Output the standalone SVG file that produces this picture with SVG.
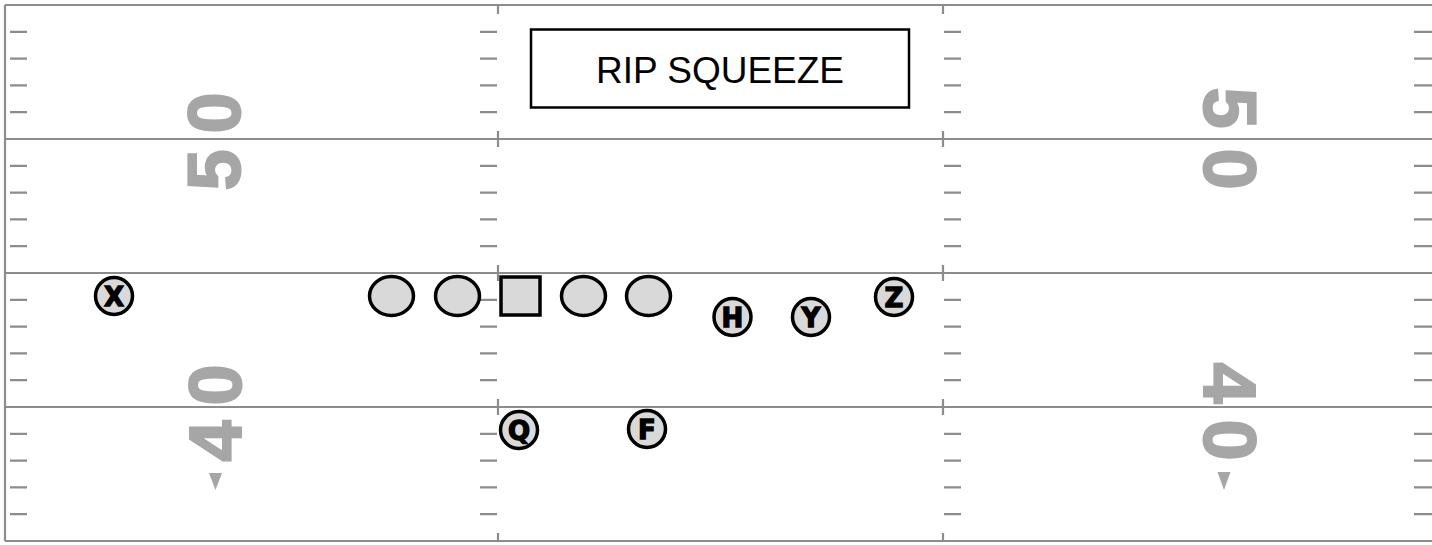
<svg xmlns="http://www.w3.org/2000/svg" width="1432" height="545" viewBox="0 0 1432 545">
<style>
.yard{stroke:#8c8c8c;stroke-width:2.2;fill:none}
.hash{stroke:#8c8c8c;stroke-width:2.2;fill:none}
.num{font-family:"Liberation Sans",Arial,sans-serif;font-weight:bold;font-size:74px;fill:#a6a6a6;stroke:#a6a6a6;stroke-width:2;text-anchor:middle}
.tri{fill:#a6a6a6}
.lineman{fill:#d9d9d9;stroke:#000;stroke-width:3.5}
.skill{fill:#d9d9d9;stroke:#000;stroke-width:3.5}
.lbl{font-family:"DejaVu Sans",Verdana,sans-serif;font-weight:bold;font-size:26px;fill:#000;stroke:#000;stroke-width:1.3;text-anchor:middle}
.title{font-family:"Liberation Sans",Arial,sans-serif;font-size:37px;fill:#000;text-anchor:middle}
</style>
<rect width="1432" height="545" fill="#ffffff"/>
<g id="field">
  <path class="yard" d="M5 5V541M5 5H1432M5 139H1432M5 273H1432M5 407H1432M5 541H1432"/>
  <path class="hash" d="M498 5v9M498 131v16M498 265v16M498 399v16M498 533v8M943 5v9M943 131v16M943 265v16M943 399v16M943 533v8"/>
  <path class="hash" d="M10 31.8h17M10 58.6h17M10 85.4h17M10 112.2h17M10 165.8h17M10 192.6h17M10 219.4h17M10 246.2h17M10 299.8h17M10 326.6h17M10 353.4h17M10 380.2h17M10 433.8h17M10 460.6h17M10 487.4h17M10 514.2h17"/>
  <path class="hash" d="M480 31.8h17M480 58.6h17M480 85.4h17M480 112.2h17M480 165.8h17M480 192.6h17M480 219.4h17M480 246.2h17M480 299.8h17M480 326.6h17M480 353.4h17M480 380.2h17M480 433.8h17M480 460.6h17M480 487.4h17M480 514.2h17"/>
  <path class="hash" d="M944 31.8h17M944 58.6h17M944 85.4h17M944 112.2h17M944 165.8h17M944 192.6h17M944 219.4h17M944 246.2h17M944 299.8h17M944 326.6h17M944 353.4h17M944 380.2h17M944 433.8h17M944 460.6h17M944 487.4h17M944 514.2h17"/>
  <path class="hash" d="M1414 31.8h18M1414 58.6h18M1414 85.4h18M1414 112.2h18M1414 165.8h18M1414 192.6h18M1414 219.4h18M1414 246.2h18M1414 299.8h18M1414 326.6h18M1414 353.4h18M1414 380.2h18M1414 433.8h18M1414 460.6h18M1414 487.4h18M1414 514.2h18"/>
</g>
<g id="numbers">
  <text class="num" transform="translate(213,113) rotate(-90)" x="0" y="26.5">0</text>
  <text class="num" transform="translate(213,170) rotate(-90)" x="0" y="26.5">5</text>
  <text class="num" transform="translate(214,385) rotate(-90)" x="0" y="26.5">0</text>
  <text class="num" transform="translate(214,441) rotate(-90)" x="0" y="26.5">4</text>
  <polygon class="tri" points="209,473 222,473 215.5,490"/>
  <text class="num" transform="translate(1230,108) rotate(90)" x="0" y="26.5">5</text>
  <text class="num" transform="translate(1230,169) rotate(90)" x="0" y="26.5">0</text>
  <text class="num" transform="translate(1230,383) rotate(90)" x="0" y="26.5">4</text>
  <text class="num" transform="translate(1230,440) rotate(90)" x="0" y="26.5">0</text>
  <polygon class="tri" points="1217.5,472 1230.5,472 1224,490"/>
</g>
<g id="title">
  <rect x="531" y="29.5" width="378" height="78" fill="#ffffff" stroke="#000" stroke-width="2.5"/>
  <text class="title" x="720" y="83">RIP SQUEEZE</text>
</g>
<g id="LT"><ellipse class="lineman" cx="391.5" cy="296" rx="22" ry="19.5"/></g>
<g id="LG"><ellipse class="lineman" cx="457.5" cy="296" rx="22" ry="19.5"/></g>
<g id="C"><rect class="lineman" x="501" y="277" width="39" height="38" stroke-width="3.5"/></g>
<g id="RG"><ellipse class="lineman" cx="583.5" cy="296" rx="22" ry="19.5"/></g>
<g id="RT"><ellipse class="lineman" cx="648.5" cy="296" rx="22" ry="19.5"/></g>
<g id="X"><circle class="skill" cx="114" cy="296" r="18.5"/><text class="lbl" x="114" y="305.5">X</text></g>
<g id="H"><circle class="skill" cx="732.5" cy="317" r="18.5"/><text class="lbl" x="732.5" y="326.5">H</text></g>
<g id="Y"><circle class="skill" cx="811" cy="317" r="18.5"/><text class="lbl" x="811" y="326.5">Y</text></g>
<g id="Z"><circle class="skill" cx="894" cy="297" r="18.5"/><text class="lbl" x="894" y="306.5">Z</text></g>
<g id="Q"><circle class="skill" cx="519" cy="430" r="18.5"/><text class="lbl" x="519" y="439.5">Q</text></g>
<g id="F"><circle class="skill" cx="647" cy="429" r="18.5"/><text class="lbl" x="647" y="438.5">F</text></g>
</svg>
